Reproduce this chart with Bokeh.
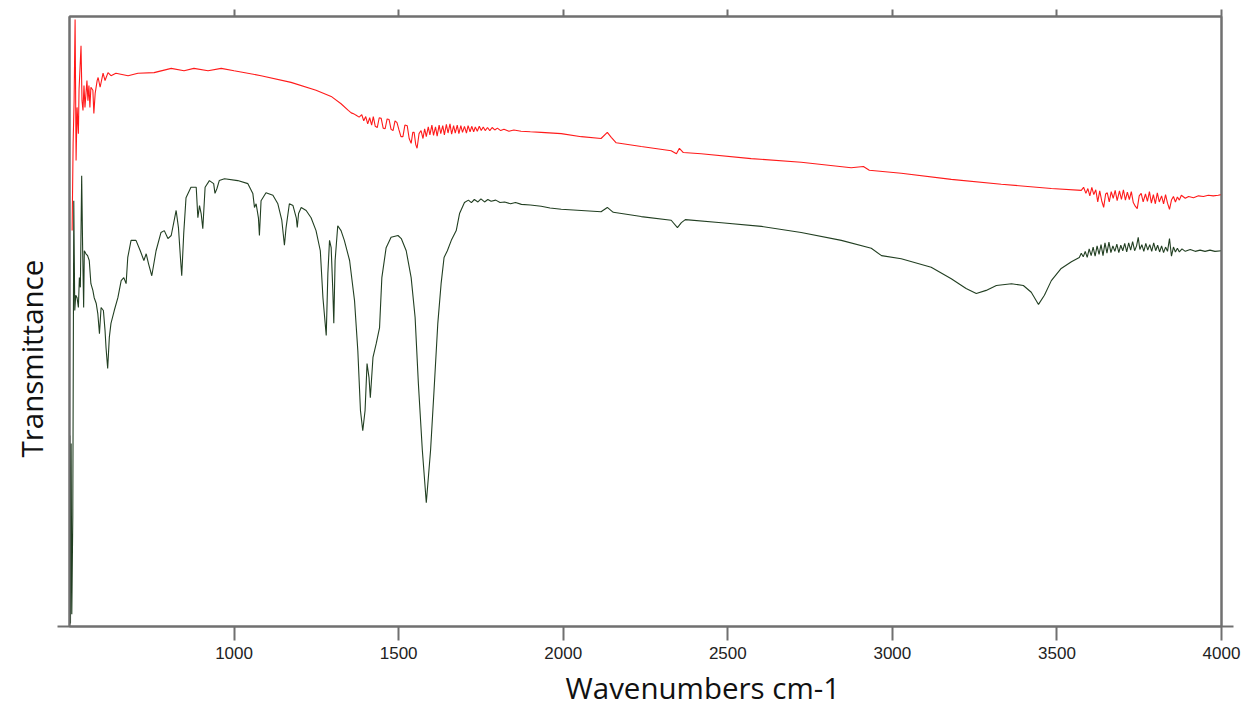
from bokeh.plotting import figure
from bokeh.models import Range1d, LinearAxis, FixedTicker, Title
from bokeh.embed import file_html
from bokeh.resources import INLINE

# ---- data (wavenumber cm-1, transmittance in arbitrary %) ----
# red spectrum, in segments
red_wn_a = [508, 511, 514, 517, 520, 523, 527, 529, 535, 538, 541, 544, 547, 553, 556,
            559, 562, 565, 571, 574, 578, 584, 587, 593, 602, 608, 617, 626, 641, 678,
            708, 757, 809, 848, 878, 921, 961, 1000, 1082, 1173, 1249, 1295, 1325]
red_t_a = [64.9, 79.2, 86.2, 99.5, 76.4, 85.1, 80.8, 88.0, 95.2, 86.2, 84.6, 88.7, 85.1,
           89.5, 86.2, 88.7, 85.1, 88.4, 87.9, 84.1, 87.4, 89.5, 90.0, 88.4, 90.7, 89.5,
           90.8, 90.3, 90.7, 90.3, 90.7, 90.8, 91.5, 91.1, 91.5, 91.1, 91.5, 91.1, 90.3,
           89.2, 87.9, 86.9, 85.7]
red_wn_b = [1347, 1356, 1365, 1371, 1380, 1388, 1394, 1400, 1406, 1412, 1418, 1423, 1429,
            1435, 1441, 1447, 1453, 1459, 1465, 1471, 1477, 1483, 1489, 1495, 1501, 1507,
            1513, 1519, 1526, 1532, 1538, 1543, 1547, 1552, 1556, 1562, 1568, 1574, 1579,
            1584, 1590, 1595, 1601, 1606, 1612, 1617, 1623, 1628, 1634, 1639, 1645, 1650,
            1656, 1661, 1667, 1672, 1678, 1683, 1689, 1694, 1700, 1706, 1711, 1717, 1722,
            1728, 1733, 1739, 1745, 1751, 1757, 1763, 1770, 1777, 1784, 1792, 1800, 1810,
            1820, 1835, 1850, 1872, 1900, 1933]
red_t_b = [84.6, 84.2, 84.0, 83.8, 83.5, 83.9, 82.9, 83.6, 82.4, 83.4, 82.2, 83.6, 82.0,
           81.8, 83.4, 83.3, 81.7, 81.6, 83.2, 83.1, 81.5, 81.3, 82.9, 82.6, 81.4, 80.3,
           80.3, 82.2, 82.1, 80.0, 79.2, 81.0, 81.0, 79.0, 78.4, 80.8, 81.3, 80.0, 81.6,
           80.3, 81.9, 80.6, 82.2, 80.5, 81.9, 80.4, 82.2, 80.8, 82.1, 80.6, 82.3, 80.9,
           82.4, 80.7, 82.1, 80.9, 82.2, 80.8, 82.1, 81.0, 82.0, 80.9, 82.1, 81.1, 82.0,
           81.1, 81.9, 81.2, 82.0, 81.3, 81.9, 81.3, 81.8, 81.3, 81.8, 81.4, 81.7, 81.3,
           81.5, 81.2, 81.4, 81.2, 81.1, 81.0]
red_wn_c = [1994, 2055, 2115, 2134, 2146, 2161, 2237, 2328, 2344, 2353, 2365, 2419, 2571,
            2723, 2875, 2912, 2930, 3027, 3179, 3331, 3483]
red_t_c = [80.8, 80.3, 80.0, 81.0, 80.2, 79.3, 78.7, 78.0, 77.5, 78.4, 77.7, 77.5, 76.7,
           76.1, 75.2, 75.4, 74.8, 74.3, 73.3, 72.5, 71.8]
red_wn_d = [3574, 3581, 3588, 3594, 3600, 3606, 3612, 3618, 3624, 3630, 3636, 3642, 3648,
            3653, 3659, 3665, 3671, 3677, 3683, 3690, 3696, 3702, 3708, 3714, 3720, 3726,
            3732, 3738, 3744, 3750, 3756, 3762, 3769, 3775, 3781, 3787, 3793, 3799, 3805,
            3811, 3818, 3824, 3830, 3836, 3842, 3848, 3854, 3860, 3866, 3872, 3878, 3890,
            3900, 3915, 3930, 3945, 3960, 3975, 3990, 4000]
red_t_d = [71.5, 72.0, 71.0, 71.8, 70.6, 72.0, 70.8, 71.6, 69.6, 71.4, 69.8, 68.7, 70.9,
           71.1, 69.6, 71.3, 70.2, 71.5, 69.8, 71.4, 70.0, 71.6, 69.9, 71.2, 70.0, 71.3,
           69.5, 68.9, 68.5, 70.6, 71.0, 69.6, 70.9, 69.7, 71.3, 69.4, 70.8, 69.3, 71.1,
           69.6, 70.6, 69.3, 70.8, 69.4, 68.4, 69.9, 70.5, 69.6, 70.4, 69.9, 70.7, 70.2,
           70.5, 70.3, 70.6, 70.5, 70.7, 70.6, 70.7, 70.8]

# green spectrum, in segments
green_wn_a = [501, 503, 505, 507, 510, 513, 516, 519, 523, 527, 530, 533, 537, 540, 543,
              545, 550, 555, 560, 565, 571, 575, 581, 586, 591, 596, 603, 608, 611, 616,
              621, 626, 636, 647, 657, 665, 672, 677, 687, 702, 715, 726, 733, 740, 750,
              763, 778, 788, 799, 809, 824, 831, 837, 841, 847, 854, 869, 885, 890, 895,
              900, 905, 912, 925, 938, 942, 948, 955, 971, 1011, 1042, 1057, 1062, 1067,
              1074, 1077, 1082, 1097, 1118, 1133, 1145, 1153, 1158, 1168, 1179, 1189, 1192,
              1196, 1204, 1219, 1234, 1249, 1262, 1270, 1280, 1285, 1290, 1295, 1300, 1303,
              1307, 1315, 1325, 1335, 1351, 1366, 1376, 1384, 1391, 1398, 1404, 1410, 1414,
              1422, 1432, 1442, 1449, 1462, 1477, 1498, 1508, 1523, 1538, 1550, 1560, 1572,
              1584, 1597, 1607, 1619, 1629, 1638, 1648, 1660, 1675, 1685]
green_t_a = [31.3, 0.5, 30.0, 2.0, 18.0, 69.8, 51.8, 54.3, 53.9, 52.3, 57.2, 55.6, 73.9,
             61.6, 52.3, 61.6, 61.1, 60.8, 60.0, 56.2, 55.1, 53.9, 53.0, 51.3, 48.0, 52.3,
             51.8, 48.5, 45.7, 42.3, 47.4, 49.7, 51.8, 53.9, 56.7, 57.2, 56.2, 60.5, 63.3,
             63.3, 61.6, 60.0, 61.1, 59.5, 57.5, 61.6, 64.6, 64.9, 63.6, 64.1, 68.2, 65.4,
             60.5, 57.5, 64.4, 70.3, 72.0, 72.0, 67.0, 69.0, 67.7, 65.2, 72.0, 73.1, 72.6,
             71.0, 71.8, 73.1, 73.4, 73.1, 72.6, 71.0, 68.7, 69.3, 67.0, 64.1, 69.8, 71.1,
             70.7, 69.3, 66.6, 62.5, 65.4, 69.3, 69.0, 67.0, 65.4, 67.7, 68.7, 68.2, 67.0,
             64.9, 61.6, 53.9, 47.7, 57.9, 63.3, 62.1, 55.1, 49.7, 60.0, 65.7, 64.9, 63.3,
             60.0, 53.4, 45.2, 35.4, 32.1, 35.4, 43.1, 40.8, 37.5, 44.1, 46.4, 49.0, 57.2,
             62.1, 63.8, 64.1, 63.6, 61.6, 57.2, 50.7, 39.8, 28.9, 20.3, 28.9, 38.2, 49.7,
             56.2, 60.5, 61.6, 63.3, 64.9, 67.7]
green_wn_b = [1700, 1712, 1721, 1730, 1741, 1750, 1761, 1771, 1781, 1795, 1808, 1822, 1840,
              1855, 1873, 1900, 1933, 1960, 1994, 2055, 2115, 2134, 2152, 2237, 2328, 2347,
              2359, 2371, 2481, 2602, 2723, 2845, 2936, 2967, 3027, 3118, 3179, 3224, 3255,
              3285, 3316, 3362, 3398, 3422, 3444, 3462, 3483, 3513, 3544]
green_t_b = [69.5, 69.9, 69.5, 70.0, 69.6, 70.1, 69.6, 70.0, 69.7, 69.9, 69.5, 69.6, 69.3,
             69.5, 69.2, 69.1, 68.9, 68.6, 68.4, 68.2, 68.0, 68.7, 67.9, 67.2, 66.6, 65.4,
             66.2, 66.7, 66.2, 65.6, 64.6, 63.3, 62.0, 60.8, 60.3, 58.9, 57.0, 55.4, 54.6,
             55.1, 55.9, 56.2, 55.9, 54.8, 52.8, 54.3, 56.7, 58.7, 59.8]
green_wn_c = [3568, 3574, 3580, 3586, 3592, 3598, 3604, 3610, 3616, 3622, 3628, 3634, 3640,
              3646, 3652, 3658, 3664, 3670, 3676, 3682, 3688, 3694, 3700, 3706, 3712, 3718,
              3724, 3730, 3736, 3742, 3747, 3752, 3758, 3764, 3770, 3776, 3782, 3788, 3794,
              3800, 3806, 3812, 3818, 3824, 3830, 3836, 3842, 3848, 3854, 3860, 3866, 3872,
              3880, 3890, 3905, 3920, 3935, 3950, 3965, 3980, 4000]
green_t_c = [60.5, 61.2, 60.6, 61.5, 60.5, 61.9, 60.8, 62.2, 60.7, 62.4, 61.0, 62.6, 60.8,
             62.9, 61.2, 63.0, 61.3, 62.4, 61.5, 62.7, 61.3, 62.5, 61.6, 62.8, 61.4, 62.9,
             61.7, 63.1, 61.6, 62.4, 63.8, 61.8, 62.6, 61.5, 62.8, 61.7, 62.6, 61.5, 62.9,
             61.6, 62.5, 61.4, 62.4, 61.3, 62.2, 61.5, 63.6, 60.7, 62.2, 61.4, 62.0, 61.4,
             61.9, 61.5, 61.8, 61.5, 61.7, 61.5, 61.7, 61.5, 61.6]

x_ticks = [1000, 1500, 2000, 2500, 3000, 3500, 4000]

red_wn = red_wn_a + red_wn_b + red_wn_c + red_wn_d
red_t = red_t_a + red_t_b + red_t_c + red_t_d
green_wn = green_wn_a + green_wn_b + green_wn_c
green_t = green_t_a + green_t_b + green_t_c

AX = "#707070"

p = figure(width=1244, height=715, output_backend="svg", toolbar_location=None,
           x_range=Range1d(500, 4000), y_range=Range1d(0, 100),
           min_border_left=69, min_border_right=23, min_border_top=16,
           min_border_bottom=89, y_axis_location=None, x_axis_location=None)
p.background_fill_color = "white"
p.border_fill_color = "white"
p.outline_line_color = AX
p.outline_line_width = 2
p.xgrid.visible = False
p.ygrid.visible = False

p.line(red_wn, red_t, line_color="#ff1a1a", line_width=1.1)
p.line(green_wn, green_t, line_color="#223f22", line_width=1.1)


def plain_axis(ticks, out, standoff=0):
    ax = LinearAxis(ticker=FixedTicker(ticks=ticks),
                    major_label_overrides={t: "" for t in ticks})
    ax.axis_line_color = AX
    ax.axis_line_width = 2
    ax.major_tick_line_color = AX
    ax.major_tick_line_width = 2
    ax.major_tick_out = out
    ax.major_tick_in = 0
    ax.minor_tick_line_color = None
    ax.major_label_text_color = None
    ax.major_label_text_font_size = "1px"
    ax.major_label_standoff = standoff
    return ax


bottom = LinearAxis(ticker=FixedTicker(ticks=x_ticks))
bottom.axis_line_color = AX
bottom.axis_line_width = 2
bottom.major_tick_line_color = AX
bottom.major_tick_line_width = 2
bottom.major_tick_out = 14
bottom.major_tick_in = 0
bottom.minor_tick_line_color = None
bottom.major_label_text_font = "Liberation Sans"
bottom.major_label_text_font_size = "17px"
bottom.major_label_text_color = "#222222"
bottom.major_label_standoff = 6
p.add_layout(bottom, "below")

p.add_layout(plain_axis(x_ticks, 7), "above")
p.add_layout(plain_axis([0], 12, -10), "left")
p.add_layout(plain_axis([0], 12), "right")

xlabel = Title(text="Wavenumbers cm-1", align="left", offset=496, standoff=6,
               text_font="Open Sans", text_font_size="29.5px",
               text_font_style="normal", text_color="#111111")
p.add_layout(xlabel, "below")

ylabel = Title(text="Transmittance", align="left", offset=169, standoff=8,
               vertical_align="top",
               text_font="Open Sans", text_font_size="29.5px",
               text_font_style="normal", text_color="#111111")
p.add_layout(ylabel, "left")

open("out.html", "w").write(file_html(p, INLINE))
